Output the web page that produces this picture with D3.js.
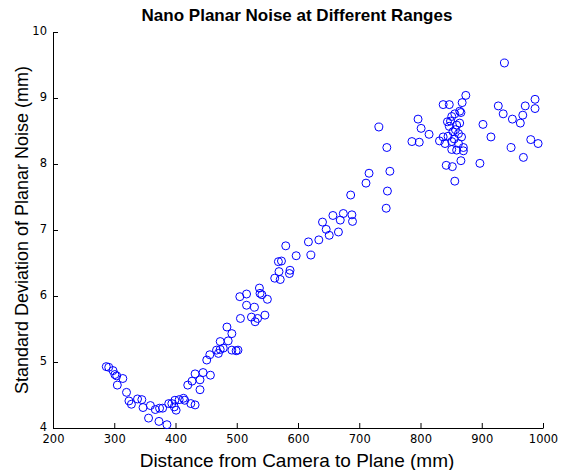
<!DOCTYPE html>
<html>
<head>
<meta charset="utf-8">
<script src="https://cdn.jsdelivr.net/npm/d3@7"></script>
<style>
  body { margin: 0; background: #fff; }
  text { font-family: "Liberation Sans", Arial, sans-serif; }
</style>
</head>
<body>
<div id="chart"></div>
<script>
// distance (mm) and std deviation of planar noise (mm)
const distance = [
  287, 291, 298, 301, 304, 314, 305, 320, 324, 328, 338, 345, 347, 359, 356, 367, 374, 379, 373, 386,
  389, 394, 398, 401, 399, 406, 413, 415, 425, 432, 420, 427, 432, 440, 440, 445, 457, 451, 456, 467,
  470, 473, 478, 473, 486, 484, 492, 492, 499, 502,
  505, 516, 538, 541, 550, 516, 529, 506, 524, 530, 534, 546, 537, 562, 571, 569, 587, 586, 568, 573,
  580, 597, 621, 617, 634, 640, 646, 651, 666, 657, 669, 674, 688, 689, 686, 711, 716, 750, 746, 744,
  732, 745,
  786, 798, 796, 801, 814, 831, 837, 847, 868, 874, 864, 866, 844, 851, 856, 847, 859, 853, 862, 837,
  845, 867, 840, 851, 862, 870, 851, 859, 870, 842, 852, 866, 856, 897, 902, 915, 927, 935, 937, 950,
  963, 967, 971, 987, 987, 948, 968, 980, 992, 849, 857, 855, 864
];
const noise = [
  4.93, 4.92, 4.87, 4.81, 4.79, 4.75, 4.65, 4.54, 4.41, 4.36, 4.44, 4.43, 4.31, 4.34, 4.15, 4.28, 4.30, 4.30, 4.10, 4.05,
  4.37, 4.37, 4.32, 4.27, 4.42, 4.43, 4.45, 4.42, 4.37, 4.35, 4.65, 4.71, 4.82, 4.73, 4.58, 4.84, 4.80, 5.03, 5.11, 5.18,
  5.13, 5.19, 5.21, 5.31, 5.32, 5.53, 5.43, 5.18, 5.17, 5.18,
  5.99, 6.03, 6.04, 6.02, 5.95, 5.86, 5.83, 5.66, 5.68, 5.61, 5.66, 5.71, 6.12, 6.27, 6.25, 6.37, 6.39, 6.34, 6.52, 6.53,
  6.76, 6.61, 6.62, 6.82, 6.85, 7.12, 7.01, 6.92, 6.97, 7.22, 7.15, 7.25, 7.23, 7.13, 7.53, 7.71, 7.86, 7.89, 7.59, 7.33,
  8.56, 8.25,
  8.34, 8.33, 8.68, 8.54, 8.45, 8.35, 8.90, 8.90, 8.93, 9.04, 8.80, 8.78, 8.64, 8.72, 8.76, 8.57, 8.59, 8.49, 8.46, 8.41,
  8.42, 8.41, 8.31, 8.34, 8.31, 8.25, 8.22, 8.21, 8.20, 7.98, 7.96, 8.05, 7.74, 8.01, 8.60, 8.41, 8.88, 8.76, 9.53, 8.68,
  8.62, 8.74, 8.88, 8.98, 8.84, 8.25, 8.10, 8.37, 8.31, 8.65, 8.52, 8.38, 8.62
];
const xTicks = [200, 300, 400, 500, 600, 700, 800, 900, 1000];
const yTicks = [4, 5, 6, 7, 8, 9, 10];

const width = 561, height = 470;
const margin = { top: 32, right: 18, bottom: 42, left: 53 };

const svg = d3.select("#chart")
  .append("svg")
  .attr("width", width)
  .attr("height", height);

const x = d3.scaleLinear()
  .domain([200, 1000])
  .range([margin.left, width - margin.right]);

const y = d3.scaleLinear()
  .domain([4, 10])
  .range([height - margin.bottom, margin.top]);

// axes, matlab style: ticks pointing into the plot
const xAxis = svg.append("g")
  .attr("transform", `translate(0,${height - margin.bottom})`)
  .call(d3.axisBottom(x).tickValues(xTicks).tickFormat(d3.format("d"))
    .tickSizeInner(-5).tickSizeOuter(0).tickPadding(8));

const yAxis = svg.append("g")
  .attr("transform", `translate(${margin.left},0)`)
  .call(d3.axisLeft(y).tickValues(yTicks).tickFormat(d3.format("d"))
    .tickSizeInner(-5).tickSizeOuter(0).tickPadding(6));

[xAxis, yAxis].forEach(g => {
  g.select(".domain").attr("stroke", "#000");
  g.selectAll(".tick line").attr("stroke", "#000");
  g.selectAll(".tick text")
    .attr("fill", "#000")
    .style("font-family", "'DejaVu Sans', sans-serif")
    .style("font-size", "11.5px");
});
xAxis.selectAll(".tick text").attr("dy", "0.6em");
yAxis.selectAll(".tick text").attr("dy", "0.2em");

// points
svg.append("g")
  .selectAll("circle")
  .data(distance.map((d, i) => [d, noise[i]]))
  .enter()
  .append("circle")
  .attr("cx", d => x(d[0]))
  .attr("cy", d => y(d[1]))
  .attr("r", 4)
  .attr("fill", "none")
  .attr("stroke", "#0000ff")
  .attr("stroke-width", 1);

// labels
svg.append("text")
  .attr("x", 297)
  .attr("y", 21)
  .attr("text-anchor", "middle")
  .style("font-size", "17px")
  .style("font-weight", "bold")
  .text("Nano Planar Noise at Different Ranges");

svg.append("text")
  .attr("x", 297)
  .attr("y", 467)
  .attr("text-anchor", "middle")
  .style("font-size", "19px")
  .text("Distance from Camera to Plane (mm)");

svg.append("text")
  .attr("transform", `translate(28,${(margin.top + height - margin.bottom) / 2}) rotate(-90)`)
  .attr("text-anchor", "middle")
  .style("font-size", "18px")
  .text("Standard Deviation of Planar Noise (mm)");
</script>
</body>
</html>
